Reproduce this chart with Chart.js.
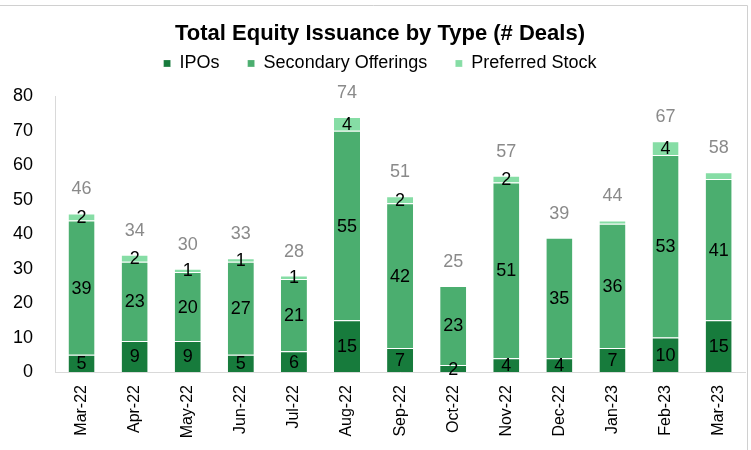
<!DOCTYPE html>
<html>
<head>
<meta charset="utf-8">
<script src="https://cdn.jsdelivr.net/npm/chart.js@4/dist/chart.umd.min.js"></script>
<style>
  html, body { margin: 0; padding: 0; background: #ffffff; }
  #wrap { position: relative; width: 751px; height: 450px; }
</style>
</head>
<body>
<div id="wrap"><canvas id="c" width="751" height="450"></canvas></div>
<script>
const categories = ['Mar-22','Apr-22','May-22','Jun-22','Jul-22','Aug-22','Sep-22','Oct-22','Nov-22','Dec-22','Jan-23','Feb-23','Mar-23'];
const ipos       = [5, 9, 9, 5, 6, 15, 7, 2, 4, 4, 7, 10, 15];
const secondary  = [39, 23, 20, 27, 21, 55, 42, 23, 51, 35, 36, 53, 41];
const preferred  = [2, 2, 1, 1, 1, 4, 2, 0, 2, 0, 1, 4, 2];
const totals     = [46, 34, 30, 33, 28, 74, 51, 25, 57, 39, 44, 67, 58];
const hiddenPreferredLabels = ['Jan-23', 'Mar-23'];
const yTicks = [0, 10, 20, 30, 40, 50, 60, 70, 80];

const FONT = "'Liberation Sans', Arial, Helvetica, sans-serif";

const legendGapPlugin = {
  id: 'legendGap',
  afterInit(chart) {
    const lg = chart.legend;
    if (!lg || lg._gapPatched) return;
    const f = lg.fit;
    lg.fit = function () { f.call(this); this.height += 14; };
    lg._gapPatched = true;
  }
};

const labelPlugin = {
  id: 'labels',
  afterDatasetsDraw(chart) {
    const ctx = chart.ctx;
    ctx.save();
    ctx.font = '18px ' + FONT;
    ctx.textAlign = 'center';
    ctx.textBaseline = 'middle';
    ctx.fillStyle = '#000000';
    chart.data.datasets.forEach((ds, di) => {
      const meta = chart.getDatasetMeta(di);
      meta.data.forEach((el, i) => {
        const v = ds.data[i];
        if (!v) return;
        if (di === 2 && hiddenPreferredLabels.includes(categories[i])) return;
        const p = el.getProps(['x', 'y', 'base'], true);
        ctx.fillText(String(v), p.x, (p.y + p.base) / 2 + 1);
      });
    });
    ctx.fillStyle = '#8a8a8a';
    const yScale = chart.scales.y;
    const metaTop = chart.getDatasetMeta(0);
    totals.forEach((t, i) => {
      const x = metaTop.data[i].x;
      const y = yScale.getPixelForValue(t);
      ctx.fillText(String(t), x, y - 24);
    });
    ctx.restore();
  }
};

const framePlugin = {
  id: 'frame',
  beforeDraw(chart) {
    const ctx = chart.ctx;
    ctx.save();
    ctx.strokeStyle = '#d0d0d0';
    ctx.lineWidth = 1;
    ctx.beginPath();
    ctx.moveTo(0, 5.5);
    ctx.lineTo(747.5, 5.5);
    ctx.lineTo(747.5, 450);
    ctx.stroke();
    ctx.restore();
  }
};

const segBorder = {top: 1, left: 0, right: 0, bottom: 0};

new Chart(document.getElementById('c'), {
  type: 'bar',
  data: {
    labels: categories,
    datasets: [
      { label: 'IPOs', data: ipos, backgroundColor: '#177B3C', borderColor: '#ffffff', borderWidth: segBorder, borderSkipped: false },
      { label: 'Secondary Offerings', data: secondary, backgroundColor: '#4BAE6F', borderColor: '#ffffff', borderWidth: segBorder, borderSkipped: false },
      { label: 'Preferred Stock', data: preferred, backgroundColor: '#86DDA5', borderColor: '#ffffff', borderWidth: segBorder, borderSkipped: false }
    ]
  },
  options: {
    responsive: false,
    animation: false,
    devicePixelRatio: 1,
    layout: { padding: { left: 13, right: 4, top: 0, bottom: 11 } },
    datasets: { bar: { categoryPercentage: 1.0, barPercentage: 0.49 } },
    plugins: {
      title: {
        display: true,
        text: 'Total Equity Issuance by Type (# Deals)',
        color: '#000000',
        font: { family: FONT, size: 22, weight: 'bold' },
        padding: { top: 21, bottom: -21 }
      },
      legend: {
        display: true,
        position: 'top',
        labels: {
          color: '#000000',
          font: { family: FONT, size: 18 },
          boxWidth: 7,
          boxHeight: 7,
          padding: 28
        }
      },
      tooltip: { enabled: false }
    },
    scales: {
      x: {
        stacked: true,
        grid: { display: false, drawTicks: false },
        border: { display: true, color: '#d9d9d9', width: 1 },
        afterFit(scale) { scale.height = 67; },
        ticks: {
          color: '#000000',
          font: { family: FONT, size: 16 },
          minRotation: 90,
          maxRotation: 90,
          autoSkip: false,
          padding: 13
        }
      },
      y: {
        stacked: true,
        min: 0,
        max: 80,
        afterBuildTicks(scale) { scale.ticks = yTicks.map(v => ({ value: v })); },
        afterFit(scale) { scale.width = 42; },
        grid: { display: false, drawTicks: false },
        border: { display: true, color: '#d9d9d9', width: 1 },
        ticks: {
          color: '#000000',
          font: { family: FONT, size: 18 },
          padding: 22
        }
      }
    }
  },
  plugins: [legendGapPlugin, framePlugin, labelPlugin]
});
</script>
</body>
</html>
